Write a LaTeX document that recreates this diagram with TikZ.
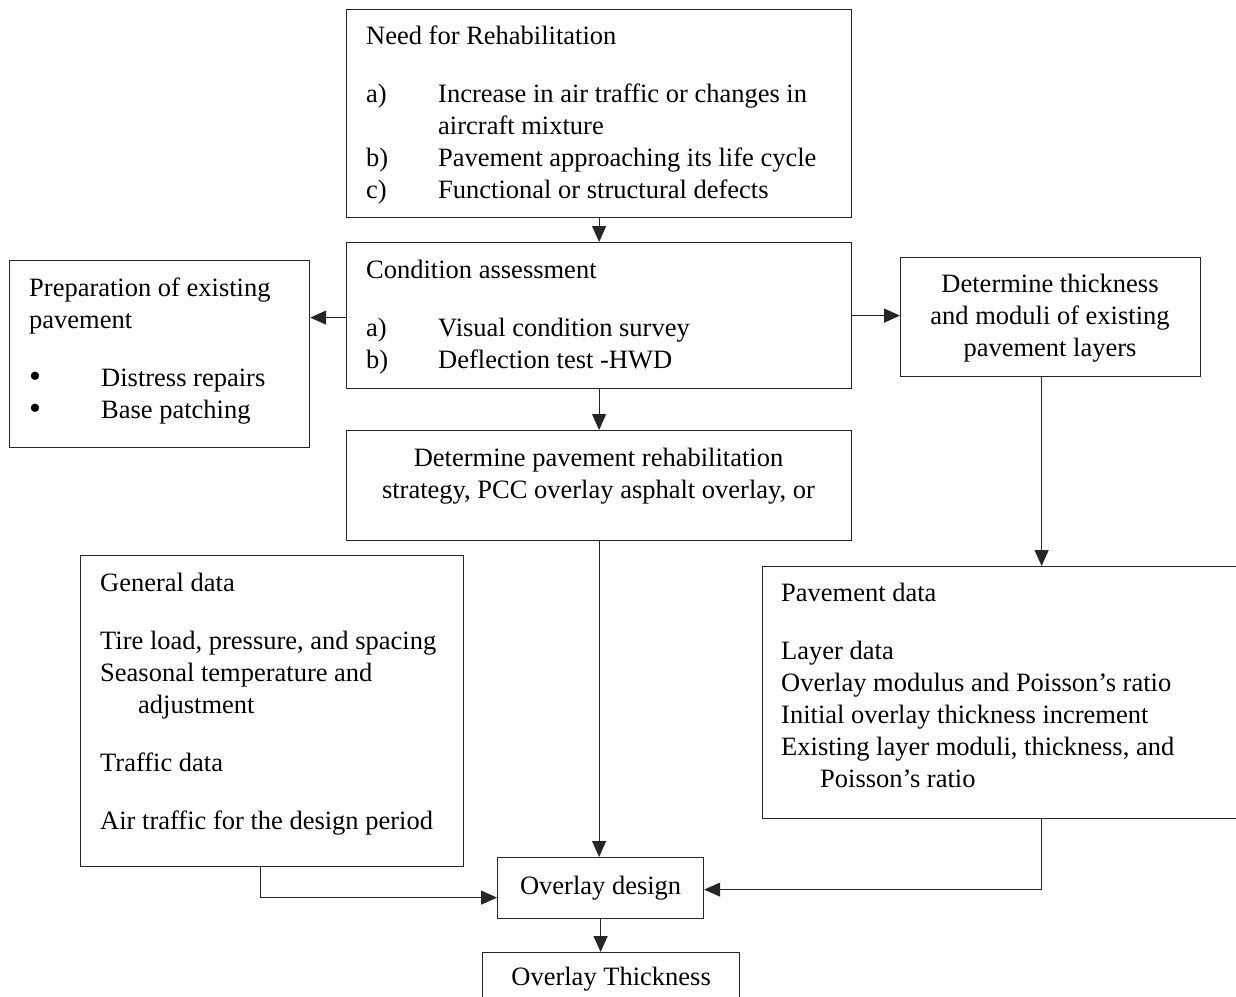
\documentclass[tikz,border=0pt]{standalone}
\usepackage{fontspec}
\setmainfont{Liberation Serif}
\usetikzlibrary{arrows.meta}
\newcommand{\bigbul}{\raisebox{-1pt}{\fontsize{34}{32}\selectfont\textbullet}}
\begin{document}
\begin{tikzpicture}[x=1pt,y=-1pt,
 box/.style={draw=black!85, line width=1.2pt, inner sep=0pt, anchor=north west},
 txt/.style={inner sep=0pt, anchor=north west, align=left, font=\fontsize{26.5}{32}\selectfont},
 ctxt/.style={inner sep=0pt, anchor=north, align=center, font=\fontsize{26.5}{32}\selectfont},
 arr/.style={line width=1.2pt, draw=black!85, -{Triangle[length=16pt,width=14pt]}},
 ln/.style={line width=1.2pt, draw=black!85}]
\useasboundingbox (0,0) rectangle (1236,996);
\clip (0,0) rectangle (1236,996);

% boxes
\node[box, minimum width=505pt, minimum height=208pt] (need) at (346,9) {};
\node[box, minimum width=505pt, minimum height=146pt] (cond) at (346,242) {};
\node[box, minimum width=300pt, minimum height=187pt] (prep) at (9,260) {};
\node[box, minimum width=300pt, minimum height=119pt] (thick) at (900,257) {};
\node[box, minimum width=505pt, minimum height=110pt] (strat) at (346,430) {};
\node[box, minimum width=383pt, minimum height=311pt] (gen) at (80,555) {};
\node[box, minimum width=500pt, minimum height=252pt] (pdata) at (762,566) {};
\node[box, minimum width=206pt, minimum height=61pt, font=\fontsize{26.5}{32}\selectfont] (odes) at (497,857) {\raisebox{1.5pt}{Overlay design}};
\node[box, minimum width=257pt, minimum height=54pt, font=\fontsize{26.5}{32}\selectfont] (othk) at (482,952) {Overlay Thickness};

% texts
\node[txt] (needT) at (366,25.5) {Need for Rehabilitation\\[26pt]
\makebox[72pt][l]{a)}Increase in air traffic or changes in\\
\hspace*{72pt}aircraft mixture\\
\makebox[72pt][l]{b)}Pavement approaching its life cycle\\
\makebox[72pt][l]{c)}Functional or structural defects};

\node[txt] (condT) at (366,259.5) {Condition assessment\\[26pt]
\makebox[72pt][l]{a)}Visual condition survey\\
\makebox[72pt][l]{b)}Deflection test -HWD};

\node[txt] (prepT) at (29,277.5) {Preparation of existing\\
pavement\\[26pt]
\makebox[72pt][l]{\bigbul}Distress repairs\\
\makebox[72pt][l]{\bigbul}Base patching};

\node[ctxt] (thickT) at (1050,273.5) {Determine thickness\\
and moduli of existing\\
pavement layers};

\node[ctxt] (stratT) at (598.5,447.5) {Determine pavement rehabilitation\\
strategy, PCC overlay asphalt overlay, or};

\node[txt] (genT) at (100,572.5) {General data\\[26pt]
Tire load, pressure, and spacing\\
Seasonal temperature and\\
\hspace*{38pt}adjustment\\[26pt]
Traffic data\\[26pt]
Air traffic for the design period};

\node[txt] (pdataT) at (781,582.5) {Pavement data\\[26pt]
Layer data\\
Overlay modulus and Poisson’s ratio\\
Initial overlay thickness increment\\
Existing layer moduli, thickness, and\\
\hspace*{39pt}Poisson’s ratio};

% connectors
\draw[arr] (need.south) -- (cond.north);
\draw[arr] ([yshift=-2pt]cond.west) -- ([yshift=-2pt]cond.west -| prep.east);
\draw[arr] (cond.east) -- (cond.east -| thick.west);
\draw[arr] (cond.south) -- (strat.north);
\draw[arr] (strat.south) -- (strat.south |- odes.north);
\draw[arr] ([xshift=-9pt]thick.south) -- ([xshift=-9pt]thick.south |- pdata.north);
\draw[arr] ([xshift=-11.5pt]gen.south) |- ([yshift=-9.5pt]odes.west);
\draw[arr] ([xshift=29pt]pdata.south) |- ([yshift=-1.5pt]odes.east);
\draw[arr] (odes.south) -- (odes.south |- othk.north);
\end{tikzpicture}
\end{document}
